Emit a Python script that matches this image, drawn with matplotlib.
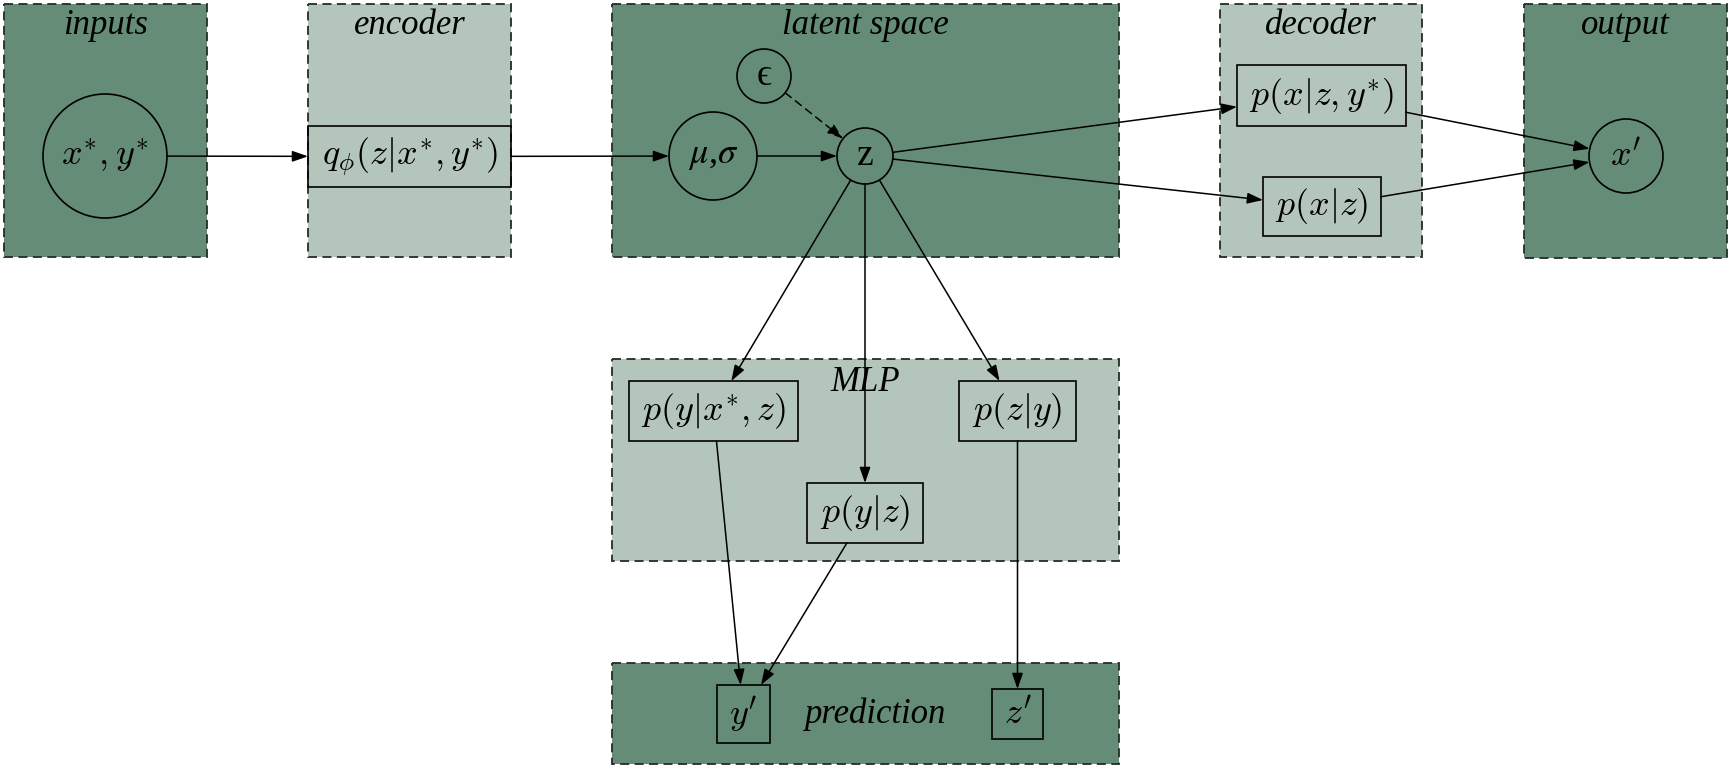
import numpy as np
import matplotlib
matplotlib.use("Agg")
import matplotlib.pyplot as plt
from matplotlib.patches import Rectangle, Circle, FancyArrowPatch, ArrowStyle

plt.rcParams["mathtext.fontset"] = "cm"

# ── diagram content ──────────────────────────────────────────
region_names  = ["inputs", "encoder", "latent space", "decoder", "output", "MLP", "prediction"]
region_shades = ["dark", "light", "dark", "light", "dark", "light", "dark"]

node_ids    = ["xy", "q", "eps", "musig", "z", "pxzy", "pxz", "xp",
               "pyxz", "pyz", "pzy", "yp", "zp"]
node_labels = [r"$x^{*},y^{*}$", r"$q_{\phi}(z|x^{*},y^{*})$", "ϵ",
               r"$\mu$,$\sigma$", "z", r"$p(x|z,y^{*})$", r"$p(x|z)$", r"$x'$",
               r"$p(y|x^{*},z)$", r"$p(y|z)$", r"$p(z|y)$", r"$y'$", r"$z'$"]

edge_from = ["xy", "q", "musig", "eps", "z",    "z",   "pxzy", "pxz", "z",    "z",   "z",   "pyxz", "pyz", "pzy"]
edge_to   = ["q",  "musig", "z", "z",   "pxzy", "pxz", "xp",   "xp",  "pyxz", "pyz", "pzy", "yp",   "yp",  "zp"]
edge_dashed = ["eps"]

# ── layout (pixels, y down) ──────────────────────────────────
region_box = {
    "inputs":       (4, 4, 207, 257),
    "encoder":      (308, 4, 511, 257),
    "latent space": (612, 4, 1119, 257),
    "decoder":      (1220, 4, 1422, 257),
    "output":       (1524, 4, 1727, 258),
    "MLP":          (612, 359, 1119, 561),
    "prediction":   (612, 663, 1119, 764),
}
title_pos = {"MLP": (865, 391), "prediction": (875, 723)}

node_shape = {
    "xy":    ("circle", 105, 156, 62),
    "eps":   ("circle", 764, 76, 27),
    "musig": ("circle", 713, 156, 44),
    "z":     ("circle", 865, 156, 28),
    "xp":    ("circle", 1626, 156, 37),
    "q":     ("rect", 308, 126, 511, 187),
    "pxzy":  ("rect", 1237, 65, 1406, 126),
    "pxz":   ("rect", 1263, 177, 1381, 236),
    "pyxz":  ("rect", 629, 381, 798, 441),
    "pzy":   ("rect", 959, 381, 1076, 441),
    "pyz":   ("rect", 807, 483, 923, 543),
    "yp":    ("rect", 717, 685, 770, 743),
    "zp":    ("rect", 992, 689, 1043, 739),
}
node_font = {"z": dict(family="Liberation Serif", fontsize=27),
             "musig": dict(math_fontfamily="stix", family="Liberation Serif", fontsize=26),
             "eps": dict(family=["Liberation Serif", "DejaVu Serif"], fontsize=27)}

shade_color = {"dark": "#658c76", "light": "#b4c6bb"}


def center(nid):
    s = node_shape[nid]
    if s[0] == "circle":
        return np.array([s[1], s[2]], float)
    return np.array([(s[1] + s[3]) / 2, (s[2] + s[4]) / 2], float)


def boundary(nid, d):
    # point where a ray from the node centre in direction d leaves the node
    s = node_shape[nid]
    c = center(nid)
    d = d / np.hypot(*d)
    if s[0] == "circle":
        return c + s[3] * d
    hw, hh = (s[3] - s[1]) / 2, (s[4] - s[2]) / 2
    t = min(hw / abs(d[0]) if d[0] else np.inf, hh / abs(d[1]) if d[1] else np.inf)
    return c + t * d


fig = plt.figure(figsize=(17.32, 7.7), dpi=100)
ax = fig.add_axes([0, 0, 1, 1])
ax.set_xlim(0, 1732)
ax.set_ylim(770, 0)
ax.axis("off")

for name, shade in zip(region_names, region_shades):
    x0, y0, x1, y1 = region_box[name]
    ax.add_patch(Rectangle((x0, y0), x1 - x0, y1 - y0, facecolor=shade_color[shade],
                           edgecolor="#262b28", lw=1.3, linestyle=(0, (5, 3)), zorder=0))
    tx, ty = title_pos.get(name, ((x0 + x1) / 2, y0 + 30))
    ax.text(tx, ty, name, family="Liberation Serif", style="italic", fontsize=25,
            ha="center", va="baseline", zorder=4)

for nid, lab in zip(node_ids, node_labels):
    s = node_shape[nid]
    if s[0] == "circle":
        ax.add_patch(Circle((s[1], s[2]), s[3], facecolor="none", edgecolor="black", lw=1.2, zorder=3))
    else:
        ax.add_patch(Rectangle((s[1], s[2]), s[3] - s[1], s[4] - s[2], facecolor="none",
                               edgecolor="black", lw=1.2, zorder=3))
    c = center(nid)
    kw = dict(fontsize=26)
    kw.update(node_font.get(nid, {}))
    ax.text(c[0], c[1], lab, ha="center", va="center", zorder=4, **kw)

head = ArrowStyle("-|>", head_length=9.5, head_width=3.3)
for a, b in zip(edge_from, edge_to):
    ca, cb = center(a), center(b)
    pa = boundary(a, cb - ca)
    pb = boundary(b, ca - cb)
    ls = (0, (5, 3.5)) if a in edge_dashed else "-"
    ax.add_patch(FancyArrowPatch(pa, pb, arrowstyle=head, mutation_scale=1,
                                 shrinkA=0, shrinkB=0, lw=1.1, color="black",
                                 linestyle=ls, zorder=2))

plt.savefig("out.png", dpi=100)
